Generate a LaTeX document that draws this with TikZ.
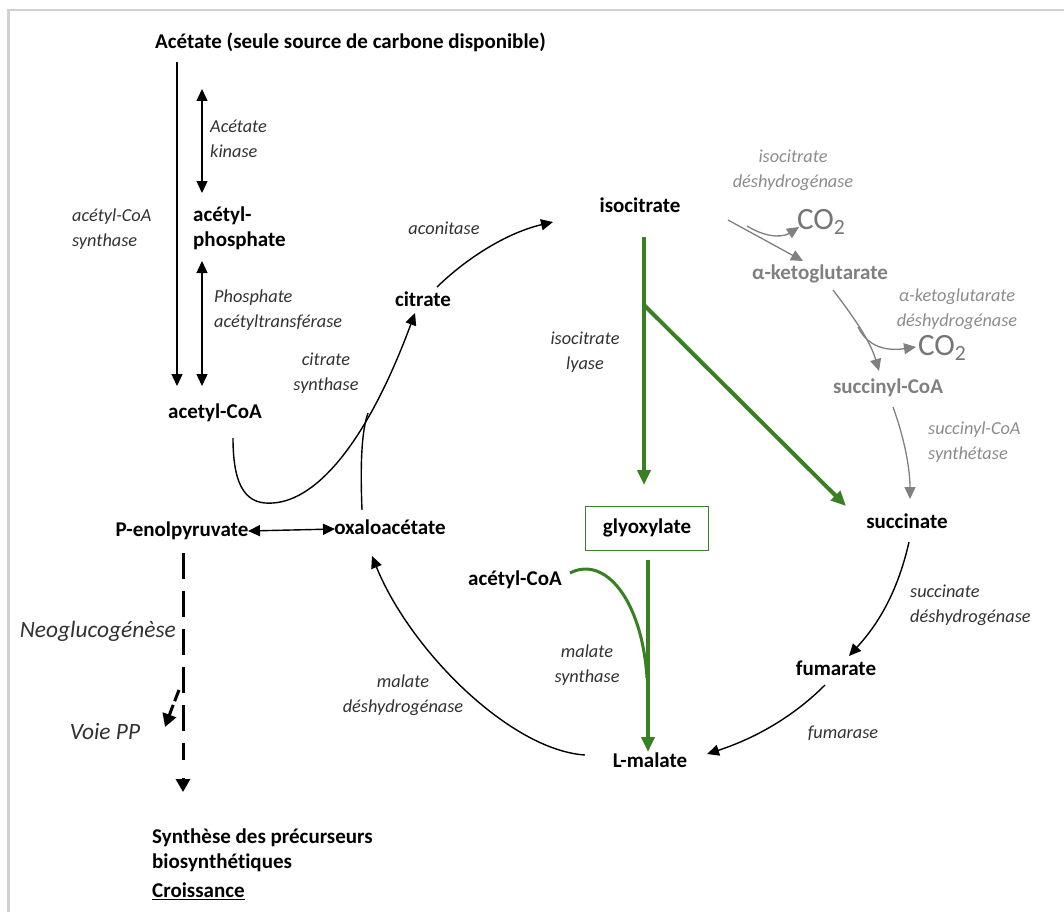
\documentclass[tikz,border=0pt]{standalone}
\usepackage{fontspec}
\setmainfont{Carlito}[Ligatures=NoCommon]
\usetikzlibrary{arrows.meta}
\definecolor{gr}{RGB}{56,128,34}
\definecolor{lgr}{RGB}{128,128,128}
\definecolor{lgt}{RGB}{140,140,140}
\definecolor{cog}{RGB}{118,118,118}
\definecolor{enzc}{RGB}{50,50,50}
\definecolor{frame}{RGB}{208,208,208}
\tikzset{
  met/.style={font=\fontsize{21}{25}\selectfont\bfseries, inner sep=0pt, align=left},
  gmet/.style={met, text=lgr},
  enz/.style={font=\fontsize{18.3}{25}\selectfont\itshape, inner sep=0pt, text=enzc},
  genz/.style={enz, text=lgt},
  bigco/.style={font=\fontsize{31}{32}\selectfont, inner sep=0pt, text=cog},
  arr/.style={line width=1.4pt, -{Triangle[length=12pt,width=11pt]}},
  darr/.style={line width=1.4pt, {Triangle[length=12pt,width=11pt]}-{Triangle[length=12pt,width=11pt]}},
  garr/.style={line width=1.3pt, draw=lgr, -{Triangle[length=12pt,width=11pt]}, lgr},
  grarr/.style={line width=4pt, draw=gr, -{Triangle[length=15pt,width=13pt]}, gr},
  dsh/.style={line width=3pt, dash pattern=on 26pt off 12pt},
  tiparr/.style={line width=3pt, -{Triangle[length=13pt,width=14pt]}},
}
\begin{document}
\begin{tikzpicture}[x=1pt,y=-1pt]
\useasboundingbox (0,0) rectangle (1064,912);
\fill[white] (0,0) rectangle (1064,912);
\draw[frame, line width=2.5pt] (8.5,912) -- (8.5,10) -- (1064,10);

% metabolites
\node[met, anchor=west] (title) at (155,42) {Acétate (seule source de carbone disponible)};
\node[met, anchor=west] (acp) at (193,228) {acétyl-\\phosphate};
\node[met] (acoa) at (215,413) {acetyl-CoA};
\node[met] (citrate) at (423,299) {citrate};
\node[met] (isocit) at (640,205) {isocitrate};
\node[gmet] (akg) at (820,274) {α-ketoglutarate};
\node[gmet] (succoa) at (888,388) {succinyl-CoA};
\node[met] (succ) at (907,521) {succinate};
\node[met] (fum) at (836,668) {fumarate};
\node[met] (lmal) at (650,760) {L-malate};
\node[met] (oaa) at (390,527) {oxaloacétate};
\node[met] (pep) at (182,531) {P-enolpyruvate};
\node[met, draw=gr, line width=0.8pt, minimum width=123pt, minimum height=44pt] (glyox) at (647,528) {glyoxylate};
\node[met] (acoa2) at (515,580) {acétyl-CoA};
\node[bigco, anchor=west] (co2a) at (797,222) {CO\textsubscript{2}};
\node[bigco, anchor=west] (co2b) at (918,348) {CO\textsubscript{2}};
\node[met, anchor=west] (syn1) at (152,838) {Synthèse des précurseurs};
\node[met, anchor=west] (syn2) at (152,863) {biosynthétiques};
\node[met, anchor=west] (syn3) at (152,891) {\underline{Croissance}};

% enzymes
\node[enz, align=left, anchor=west] (acsyn) at (72,229) {acétyl-CoA\\synthase};
\node[enz, align=left, anchor=west] (ackin) at (210,139) {Acétate\\kinase};
\node[enz, align=left, anchor=west] (pta) at (214,310) {Phosphate\\acétyltransférase};
\node[enz, align=center] (citsyn) at (326,373) {citrate\\synthase};
\node[enz] (aco) at (444,228) {aconitase};
\node[genz, align=center] (idh) at (793,170) {isocitrate\\déshydrogénase};
\node[genz, align=center] (akgdh) at (957,309) {α-ketoglutarate\\déshydrogénase};
\node[genz, align=left, anchor=west] (scs) at (928,442) {succinyl-CoA\\synthétase};
\node[enz, align=center] (icl) at (585,352) {isocitrate\\lyase};
\node[enz, align=left, anchor=west] (sdh) at (910,605) {succinate\\déshydrogénase};
\node[enz] (fumase) at (843,733) {fumarase};
\node[enz, align=center] (ms) at (587,665) {malate\\synthase};
\node[enz, align=center] (mdh) at (403,695) {malate\\déshydrogénase};
\node[enz, font=\fontsize{23.4}{25}\selectfont\itshape, anchor=east] (neo) at (176,631) {Neoglucogénèse};
\node[enz, font=\fontsize{23.4}{25}\selectfont\itshape] (voie) at (105,732) {Voie PP};

% coordinates
\coordinate (a1) at (177,62);   \coordinate (a2) at (177,386);
\coordinate (k1) at (202,89);   \coordinate (k2) at (202,193);
\coordinate (p1) at (202,261);  \coordinate (p2) at (202,386);
\coordinate (cs0) at (233,438); \coordinate (csb) at (273,503); \coordinate (cs1) at (415,313);
\coordinate (ox0) at (362,510); \coordinate (oxm) at (368,413);
\coordinate (ac0) at (437,287); \coordinate (ac1) at (553,222);
\coordinate (i0) at (728,220);  \coordinate (i1) at (803,261);
\coordinate (ib) at (747,226);  \coordinate (ic) at (799,227);
\coordinate (k0) at (833,290);  \coordinate (k1b) at (879,371);
\coordinate (kb) at (858,327);  \coordinate (kc) at (916,347);
\coordinate (s0) at (893,407);  \coordinate (s1) at (910,499);
\coordinate (g0) at (644,237);  \coordinate (g1) at (644,485);
\coordinate (gb) at (644,305);  \coordinate (g2) at (846,506);
\coordinate (m0) at (648,560);  \coordinate (m1) at (648,752);
\coordinate (ga) at (570,573);  \coordinate (gm) at (647,678);
\coordinate (f0) at (909,542);  \coordinate (f1) at (849,656);
\coordinate (u0) at (825,685);  \coordinate (u1) at (707,754);
\coordinate (l0) at (585,755);  \coordinate (l1) at (372,556);
\coordinate (e0) at (248,531);  \coordinate (e1) at (335,529);
\coordinate (d0) at (183,553);  \coordinate (dm) at (183,760); \coordinate (dt) at (183,778); \coordinate (d1) at (183,792);
\coordinate (v0) at (179,690);  \coordinate (vm) at (172,708); \coordinate (v1) at (165,727);

% connectors
\draw[arr] (a1) -- (a2);
\draw[darr] (k1) -- (k2);
\draw[darr] (p1) -- (p2);
\draw[arr] (cs0) .. controls (233,490) and (248,505) .. (csb) .. controls (318,500) and (368,440) .. (cs1);
\draw[line width=1.4pt] (ox0) .. controls (360,460) and (362,430) .. (oxm);
\draw[arr] (ac0) .. controls (470,255) and (510,232) .. (ac1);
\draw[garr] (i0) -- (i1);
\draw[garr] (ib) .. controls (770,240) and (785,236) .. (ic);
\draw[garr] (k0) .. controls (852,315) and (870,340) .. (k1b);
\draw[garr] (kb) .. controls (870,352) and (895,350) .. (kc);
\draw[garr] (s0) .. controls (905,440) and (910,470) .. (s1);
\draw[grarr] (g0) -- (g1);
\draw[grarr] (gb) -- (g2);
\draw[grarr] (m0) -- (m1);
\draw[gr, line width=3pt] (ga) .. controls (605,555) and (642,600) .. (gm);
\draw[arr] (f0) .. controls (898,590) and (880,622) .. (f1);
\draw[arr] (u0) .. controls (790,720) and (750,740) .. (u1);
\draw[arr] (l0) .. controls (510,750) and (410,650) .. (l1);
\draw[darr] (e0) -- (e1);
\draw[dsh] (d0) -- (dm);
\draw[tiparr] (dt) -- (d1);
\draw[line width=3pt, dash pattern=on 12pt off 4pt] (v0) -- (vm);
\draw[tiparr] (vm) -- (v1);
\end{tikzpicture}
\end{document}
